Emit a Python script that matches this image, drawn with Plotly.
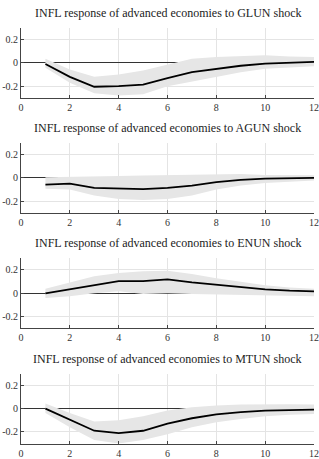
import plotly.graph_objects as go

horizons = list(range(1, 13))
shocks = ["GLUN", "AGUN", "ENUN", "MTUN"]

glun_med = [-0.01, -0.12, -0.205, -0.2, -0.187, -0.13, -0.08, -0.052, -0.025, -0.006, 0.003, 0.008]
glun_up = [0.034, -0.057, -0.12, -0.1, -0.066, -0.015, 0.034, 0.05, 0.06, 0.065, 0.055, 0.05]
glun_lo = [-0.043, -0.17, -0.26, -0.28, -0.27, -0.2, -0.157, -0.12, -0.08, -0.05, -0.04, -0.03]

agun_med = [-0.057, -0.05, -0.086, -0.09, -0.097, -0.086, -0.066, -0.037, -0.017, -0.006, -0.003, 0.0]
agun_up = [0.005, 0.01, 0.017, 0.017, 0.02, 0.023, 0.03, 0.035, 0.033, 0.025, 0.025, 0.022]
agun_lo = [-0.094, -0.1, -0.15, -0.18, -0.19, -0.18, -0.15, -0.1, -0.066, -0.043, -0.03, -0.023]

enun_med = [0.0, 0.034, 0.074, 0.105, 0.105, 0.12, 0.094, 0.074, 0.054, 0.034, 0.023, 0.017]
enun_up = [0.04, 0.09, 0.146, 0.174, 0.19, 0.194, 0.166, 0.13, 0.097, 0.069, 0.05, 0.04]
enun_lo = [-0.04, -0.026, 0.0, 0.017, -0.006, 0.0, -0.006, -0.011, -0.017, -0.02, -0.023, -0.026]

mtun_med = [0.0, -0.097, -0.19, -0.21, -0.19, -0.13, -0.083, -0.05, -0.03, -0.017, -0.011, -0.009]
mtun_up = [0.043, -0.037, -0.11, -0.1, -0.066, -0.017, 0.011, 0.026, 0.034, 0.037, 0.037, 0.034]
mtun_lo = [-0.037, -0.16, -0.27, -0.3, -0.27, -0.22, -0.16, -0.117, -0.089, -0.066, -0.054, -0.046]

meds = [glun_med, agun_med, enun_med, mtun_med]
ups = [glun_up, agun_up, enun_up, mtun_up]
los = [glun_lo, agun_lo, enun_lo, mtun_lo]

x_ticks = [0, 2, 4, 6, 8, 10, 12]
y_ticks = [-0.2, 0, 0.2]
y_tick_text = ["-0.2", "0", "0.2"]

W, H = 319, 459
# panel (top, bottom) pixel positions
panels_px = [(28, 98.5), (143.8, 214.3), (260, 330.5), (376, 446.5)]

FONT = "Liberation Serif"
fig = go.Figure()
for i in range(4):
    xa = "x" if i == 0 else f"x{i+1}"
    ya = "y" if i == 0 else f"y{i+1}"
    fig.add_trace(go.Scatter(
        x=horizons + horizons[::-1], y=ups[i] + los[i][::-1],
        fill="toself", fillcolor="#e6e6e6", line=dict(width=0),
        mode="lines", hoverinfo="skip", showlegend=False, xaxis=xa, yaxis=ya))
    fig.add_trace(go.Scatter(
        x=horizons, y=meds[i], mode="lines",
        line=dict(color="black", width=1.8), showlegend=False, xaxis=xa, yaxis=ya))
    top, bot = panels_px[i]
    dom = [(H - bot) / H, (H - top) / H]
    suffix = "" if i == 0 else str(i + 1)
    fig.layout["xaxis" + suffix] = dict(
        domain=[0, 1], range=[0, 12], tickvals=x_ticks, anchor=ya,
        showgrid=True, gridcolor="#e4e4e4", gridwidth=1,
        showline=True, linecolor="#444", linewidth=1,
        ticks="inside", ticklen=3, tickcolor="#444",
        zeroline=False, tickfont=dict(family=FONT, size=10, color="#333"))
    fig.layout["yaxis" + suffix] = dict(
        domain=dom, range=[-0.3, 0.3], tickvals=y_ticks, ticktext=y_tick_text,
        anchor=xa, showgrid=True, gridcolor="#e4e4e4", gridwidth=1,
        showline=True, linecolor="#444", linewidth=1,
        ticks="inside", ticklen=3, tickcolor="#444",
        zeroline=True, zerolinecolor="#333", zerolinewidth=1,
        tickfont=dict(family=FONT, size=10, color="#333"))
    fig.add_annotation(
        text=f"INFL response of advanced economies to {shocks[i]} shock",
        xref="paper", yref="paper", x=0.5, y=(H - (top - 15)) / H,
        showarrow=False, xanchor="center", yanchor="middle",
        font=dict(family=FONT, size=12, color="#222"))

fig.update_layout(
    width=W, height=H, margin=dict(l=21, r=5, t=0, b=0),
    paper_bgcolor="white", plot_bgcolor="white")

fig.write_html(
    "out.html",
    config={"displayModeBar": False},
    post_script="document.body.style.margin='0';document.body.style.overflow='hidden';")
